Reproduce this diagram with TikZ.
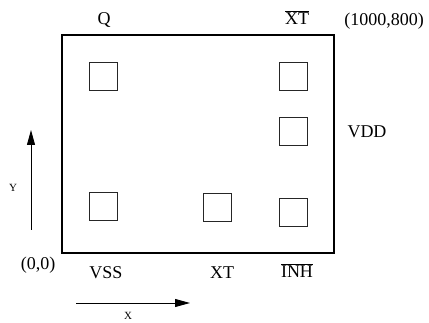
\documentclass[tikz,border=0pt]{standalone}
\usepackage{fontspec}
\setmainfont{Liberation Serif}
\usepackage{tikz}
\usetikzlibrary{arrows.meta, shapes}
\newcommand\barred[1]{\leavevmode\vbox{\hrule height 0.7pt\kern1.2pt\hbox{#1}}}
\tikzset{>={Triangle[length=15pt,width=8pt]}, font=\fontsize{18}{20}\selectfont}
\tikzset{chip/.style={rectangle,draw,line width=1.8pt,minimum width=272pt,minimum height=218pt,inner sep=0pt},
pad/.style={rectangle,draw=black!85,line width=0.9pt,minimum size=28pt,inner sep=0pt},
pin/.style={inner sep=0pt},
axis/.style={->,line width=0.9pt},
axislbl/.style={inner sep=0pt,font=\fontsize{11}{13}\selectfont}}

\begin{document}
\begin{tikzpicture}[x=1pt,y=-1pt]
\useasboundingbox (0,0) rectangle (429,323);
\path (198,144) node(chip) [chip] {}
(103,76.5) node(pad_q) [pad] {}
(293.5,76.5) node(pad_xtbar) [pad] {}
(293.5,131) node(pad_vdd) [pad] {}
(103,206) node(pad_vss) [pad] {}
(217.5,207) node(pad_xt) [pad] {}
(293.5,212.5) node(pad_inh) [pad] {};

\path (104,20) node(q) [pin] {Q}
(297,18) node(xtbar) [pin] {\barred{XT}}
(384,21) node(top_corner) [pin] {(1000,800)}
(367,132) node(vdd) [pin] {VDD}
(38,265) node(origin) [pin] {(0,0)}
(106,273) node(vss) [pin] {VSS}
(222,273) node(xt) [pin] {XT}
(297,271) node(inh) [pin] {\barred{INH}};

%axes
\path (31,230) coordinate(y_from) (31,130) coordinate(y_to)
(76,303) coordinate(x_from) (190,303) coordinate(x_to)
(13,188) node(y_lbl) [axislbl] {Y}
(128,316) node(x_lbl) [axislbl] {X};
\draw[axis] (y_from) -- (y_to);
\draw[axis] (x_from) -- (x_to);
\end{tikzpicture}
\end{document}
